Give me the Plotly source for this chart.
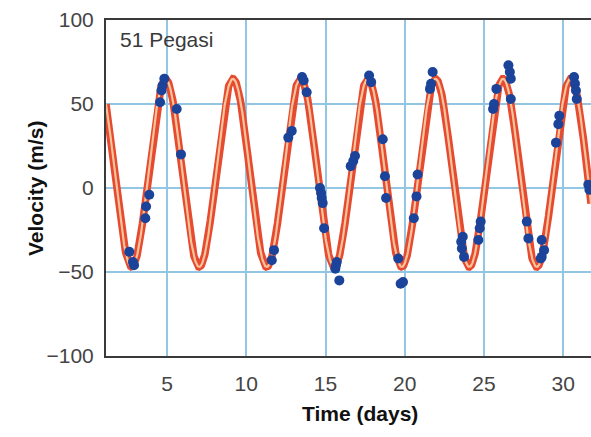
import numpy as np
import plotly.graph_objects as go

# Observed radial-velocity measurements (days, m/s)
obs_time = [2.62, 2.85, 2.92, 3.63, 3.68, 3.88, 4.56, 4.65, 4.72, 4.83, 5.61, 5.88,
            11.61, 11.75, 12.65, 12.87, 13.52, 13.62, 13.81,
            14.65, 14.72, 14.76, 14.82, 14.91, 15.62, 15.66, 15.71, 15.87,
            16.59, 16.75, 16.86, 17.75, 17.88,
            18.61, 18.75, 18.82, 19.59, 19.74, 19.89, 20.57, 20.74, 20.81,
            21.59, 21.66, 21.76,
            23.56, 23.60, 23.66, 23.74, 24.64, 24.73, 24.79,
            25.57, 25.63, 25.78, 26.54, 26.63, 26.69, 26.69,
            27.70, 27.80, 28.58, 28.64, 28.64, 28.79,
            29.54, 29.69, 29.75, 30.68, 30.74, 30.80, 30.85, 31.58, 31.65]
obs_velocity = [-38, -44, -46, -18, -11, -4, 51, 58, 61, 65, 47, 20,
                -43, -37, 30, 34, 66, 64, 57,
                0, -3, -6, -9, -24, -48, -46, -44, -55,
                13, 16, 19, 67, 63,
                29, 7, -6, -42, -57, -56, -18, -5, 8,
                59, 62, 69,
                -32, -36, -29, -41, -31, -24, -20,
                47, 50, 59, 73, 69, 65, 53,
                -20, -30, -42, -31, -41, -37,
                27, 38, 43, 66, 62, 58, 53, 2, -1]

# Fitted orbit model parameters
model_period = 4.26      # days
model_amplitude = 56.0   # m/s
model_offset = 9.0       # m/s
model_peak_time = 4.90   # days

x_ticks = [5, 10, 15, 20, 25, 30]
y_ticks = [-100, -50, 0, 50, 100]
x_range = [1.15, 31.75]
y_range = [-100, 100]

t_model = np.linspace(x_range[0], x_range[1], 1200)
v_model = model_offset + model_amplitude * np.cos(2 * np.pi * (t_model - model_peak_time) / model_period)

fig = go.Figure()
fig.add_trace(go.Scatter(x=t_model, y=v_model, mode="lines",
                         line=dict(color="#e64a30", width=7.5), hoverinfo="skip"))
fig.add_trace(go.Scatter(x=t_model, y=v_model, mode="lines",
                         line=dict(color="#f8c49a", width=2.2), hoverinfo="skip"))
fig.add_trace(go.Scatter(x=obs_time, y=obs_velocity, mode="markers",
                         marker=dict(color="#1b4399", size=10, line=dict(width=0))))

font_family = "Liberation Sans, Arial, sans-serif"
fig.update_layout(
    width=591, height=437,
    margin=dict(l=106, r=0, t=20, b=81),
    paper_bgcolor="white", plot_bgcolor="white",
    showlegend=False,
    font=dict(family=font_family, color="#333333", size=21),
    xaxis=dict(range=x_range, tickvals=x_ticks, showgrid=True, automargin=False,
               gridcolor="#93c6e2", gridwidth=1.5, zeroline=False,
               showline=True, linecolor="#3a3a3a", linewidth=2, mirror=True,
               ticks="", tickfont=dict(size=21, color="#444444"),
               ticklabelstandoff=8),
    yaxis=dict(range=y_range, tickvals=y_ticks, showgrid=True, automargin=False,
               gridcolor="#93c6e2", gridwidth=1.5, zeroline=False,
               showline=True, linecolor="#3a3a3a", linewidth=2, mirror=False,
               ticks="", tickfont=dict(size=21, color="#444444"),
               ticklabelstandoff=6),
    annotations=[
        dict(text="Time (days)", xref="paper", yref="paper", x=0.5237, y=-0.17,
             xanchor="center", yanchor="middle", showarrow=False,
             font=dict(size=21, color="#111111", family=font_family, weight="bold")),
        dict(text="Velocity (m/s)", xref="paper", yref="paper", x=-0.1464, y=0.5,
             xanchor="center", yanchor="middle", showarrow=False, textangle=-90,
             font=dict(size=21, color="#111111", family=font_family, weight="bold")),
        dict(text="51 Pegasi", xref="paper", yref="paper", x=0.0247, y=0.943,
             xanchor="left", yanchor="middle", showarrow=False,
             font=dict(size=21, color="#3a3a3a")),
    ],
)

fig.write_html("out.html", config={"displayModeBar": False},
               post_script="document.body.style.margin='0';")
